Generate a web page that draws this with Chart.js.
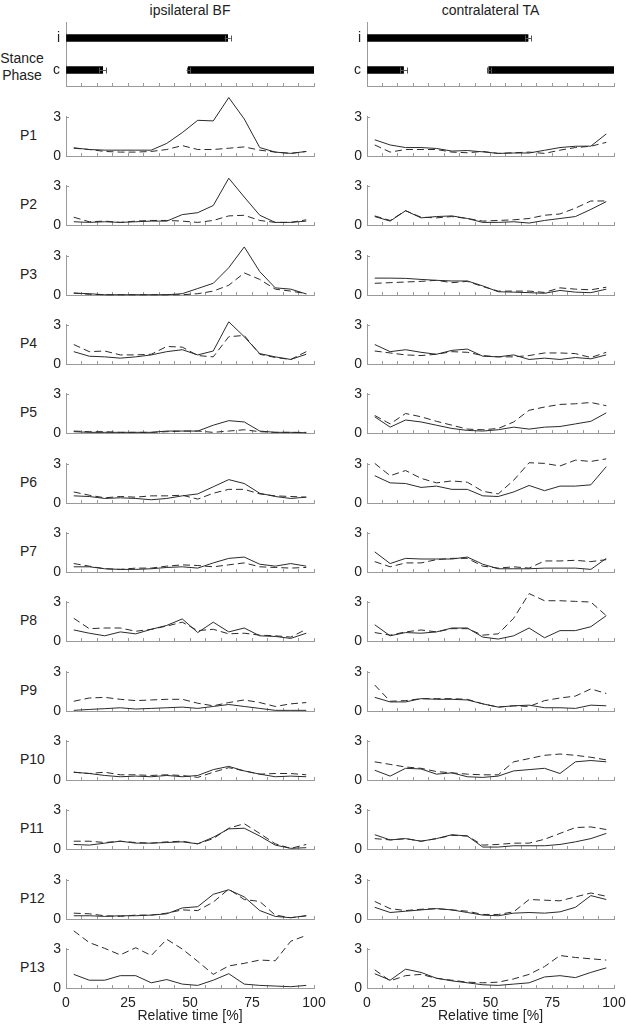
<!DOCTYPE html>
<html><head><meta charset="utf-8">
<script src="https://cdn.jsdelivr.net/npm/chart.js@4.4.1/dist/chart.umd.min.js"></script>
<style>
html,body{margin:0;padding:0;width:626px;height:1025px;overflow:hidden;background:#fff;}
#root{position:relative;width:626px;height:1025px;overflow:hidden;}
canvas{position:absolute;}
.lbl{position:absolute;font-family:"Liberation Sans",Arial,sans-serif;font-size:14px;color:#222;line-height:16px;white-space:nowrap;}
</style></head><body><div id="root"></div>
<script>
// ---------------- data ----------------
const participants = ['P1','P2','P3','P4','P5','P6','P7','P8','P9','P10','P11','P12','P13'];
const columnTitles = ['ipsilateral BF','contralateral TA'];
const stanceLabel = ['Stance','Phase'];
const xAxisTitle = 'Relative time [%]';
const timePoints = [3.125, 9.375, 15.625, 21.875, 28.125, 34.375, 40.625, 46.875, 53.125, 59.375, 65.625, 71.875, 78.125, 84.375, 90.625, 96.875];
const xTickValues = [0, 6.25, 12.5, 18.75, 25, 31.25, 37.5, 43.75, 50, 56.25, 62.5, 68.75, 75, 81.25, 87.5, 93.75, 100];
const xTickLabels = [0, 25, 50, 75, 100];
const yTickValues = [0, 3];

// stance phase (same gait for both columns)
const stanceCategories = ['i','c'];
const stanceFirstBars = [[0, 65.2], [0, 14.8]];
const stanceSecondBars = [null, [49.3, 100]];
const stanceErrorRows = ['i', 'c', 'c'];
const stanceErrorCenters = [65.2, 14.8, 49.3];
const stanceErrorSD = [1.2, 1.4, 0.7];

// ipsilateral BF, solid line
const bfSolid = [
  [0.63,0.5,0.45,0.45,0.45,0.45,0.97,1.8,2.75,2.7,4.5,2.85,0.65,0.3,0.2,0.35],
  [0.25,0.2,0.25,0.2,0.25,0.3,0.3,0.8,0.95,1.5,3.6,2.15,0.75,0.2,0.2,0.3],
  [0.15,0.1,0.02,0.02,0.02,0.02,0.02,0.1,0.5,0.9,2.1,3.7,1.8,0.55,0.45,0.08],
  [0.95,0.6,0.55,0.45,0.55,0.7,0.95,1.1,0.7,1.0,3.25,2.1,0.8,0.55,0.35,0.75],
  [0.1,0.05,0.05,0.05,0.05,0.05,0.15,0.15,0.15,0.6,0.95,0.85,0.15,0.05,0.05,0.02],
  [0.55,0.5,0.35,0.4,0.35,0.25,0.35,0.55,0.7,1.25,1.8,1.5,0.75,0.5,0.35,0.45],
  [0.4,0.4,0.25,0.2,0.2,0.25,0.35,0.4,0.3,0.7,1.05,1.15,0.6,0.45,0.65,0.45],
  [0.85,0.6,0.4,0.7,0.55,0.9,1.2,1.7,0.65,1.45,0.7,1.0,0.4,0.35,0.2,0.6],
  [0.05,0.12,0.18,0.25,0.15,0.2,0.25,0.3,0.2,0.35,0.5,0.35,0.2,0.05,0.05,0.05],
  [0.6,0.5,0.35,0.25,0.3,0.25,0.35,0.25,0.35,0.8,1.05,0.7,0.45,0.25,0.3,0.25],
  [0.35,0.3,0.45,0.6,0.45,0.45,0.5,0.55,0.4,0.9,1.55,1.6,1.0,0.3,0.05,0.1],
  [0.25,0.25,0.2,0.25,0.25,0.3,0.4,0.85,0.95,1.9,2.25,1.7,0.65,0.2,0.1,0.25],
  [1.05,0.6,0.6,0.95,0.95,0.4,0.65,0.3,0.2,0.6,1.1,0.3,0.2,0.15,0.1,0.2]
];
// ipsilateral BF, dashed line
const bfDashed = [
  [0.6,0.5,0.35,0.3,0.3,0.35,0.5,0.8,0.5,0.5,0.6,0.7,0.45,0.3,0.2,0.35],
  [0.6,0.25,0.3,0.2,0.3,0.35,0.35,0.3,0.2,0.35,0.7,0.75,0.35,0.2,0.2,0.4],
  [0.15,0.05,0.02,0.02,0.02,0.02,0.02,0.02,0.1,0.3,0.75,1.7,1.2,0.45,0.3,0.1],
  [1.5,0.95,1.0,0.7,0.7,0.75,1.35,1.3,0.65,0.55,2.1,2.2,0.75,0.5,0.35,0.95],
  [0.15,0.1,0.1,0.05,0.05,0.05,0.1,0.15,0.15,0.05,0.15,0.25,0.1,0.05,0.05,0.05],
  [0.85,0.6,0.4,0.5,0.45,0.55,0.55,0.6,0.3,0.75,1.05,1.05,0.7,0.55,0.5,0.45],
  [0.65,0.45,0.25,0.2,0.3,0.3,0.45,0.55,0.5,0.4,0.55,0.7,0.4,0.35,0.3,0.35],
  [1.75,0.95,1.0,1.0,0.75,0.9,1.15,1.45,0.8,0.9,0.55,0.6,0.45,0.4,0.3,0.9],
  [0.75,1.0,1.05,0.9,0.8,0.85,0.9,0.9,0.6,0.4,0.65,0.85,0.65,0.35,0.55,0.65],
  [0.6,0.5,0.6,0.4,0.4,0.35,0.4,0.35,0.2,0.6,0.95,0.7,0.45,0.5,0.5,0.4],
  [0.6,0.6,0.5,0.6,0.5,0.45,0.55,0.6,0.4,0.8,1.6,1.95,1.2,0.4,0.05,0.35],
  [0.45,0.4,0.25,0.2,0.3,0.3,0.45,0.7,0.65,1.3,2.3,1.5,1.35,0.3,0.1,0.25],
  [4.4,3.5,3.05,2.55,3.1,2.5,3.75,3.0,2.05,1.05,1.7,1.9,2.15,2.1,3.6,4.05]
];
// contralateral TA, solid line
const taSolid = [
  [1.25,0.85,0.65,0.65,0.58,0.38,0.42,0.32,0.2,0.23,0.23,0.44,0.65,0.75,0.76,1.7],
  [0.65,0.3,1.1,0.55,0.65,0.7,0.5,0.2,0.2,0.25,0.15,0.35,0.5,0.65,1.2,1.8],
  [1.3,1.3,1.28,1.2,1.13,1.08,1.08,0.7,0.25,0.22,0.18,0.13,0.35,0.22,0.18,0.45],
  [1.5,0.95,1.1,0.9,0.75,1.05,1.15,0.6,0.55,0.7,0.35,0.45,0.35,0.5,0.4,0.7],
  [1.25,0.45,1.0,0.85,0.6,0.35,0.2,0.15,0.25,0.45,0.3,0.45,0.5,0.7,0.9,1.55],
  [2.1,1.55,1.5,1.2,1.3,1.05,1.05,0.55,0.5,0.85,1.35,0.95,1.3,1.3,1.4,2.8],
  [1.55,0.65,1.05,1.0,1.0,1.0,1.15,0.6,0.25,0.25,0.25,0.3,0.3,0.3,0.2,1.05],
  [1.25,0.4,0.65,0.6,0.7,1.0,1.0,0.3,0.15,0.4,1.0,0.25,0.8,0.8,1.1,1.95],
  [1.05,0.7,0.7,0.95,0.9,0.9,0.85,0.55,0.3,0.4,0.45,0.25,0.25,0.2,0.45,0.4],
  [0.75,0.3,0.9,0.85,0.45,0.55,0.25,0.2,0.3,0.7,0.8,0.9,0.5,1.4,1.5,1.4],
  [1.1,0.7,0.8,0.6,0.8,1.1,1.0,0.15,0.15,0.25,0.25,0.25,0.35,0.55,0.8,1.2],
  [0.9,0.5,0.6,0.7,0.8,0.7,0.5,0.3,0.25,0.45,0.5,0.45,0.55,0.9,1.8,1.5],
  [1.1,0.6,1.45,1.2,0.75,0.55,0.4,0.25,0.2,0.3,0.4,0.85,0.95,0.8,1.2,1.55]
];
// contralateral TA, dashed line
const taDashed = [
  [0.85,0.3,0.5,0.5,0.5,0.3,0.25,0.35,0.2,0.25,0.3,0.2,0.45,0.65,0.75,1.05],
  [0.7,0.35,1.1,0.6,0.55,0.65,0.5,0.3,0.35,0.4,0.5,0.75,0.85,1.3,1.85,1.85],
  [0.9,0.95,1.0,1.05,1.13,0.95,1.05,0.65,0.3,0.3,0.3,0.2,0.55,0.45,0.4,0.6],
  [1.0,0.85,0.7,0.65,0.75,0.95,0.9,0.65,0.55,0.55,0.65,0.85,0.85,0.8,0.5,0.9],
  [1.35,0.7,1.5,1.25,0.9,0.6,0.3,0.25,0.35,0.85,1.75,2.0,2.2,2.25,2.35,2.1],
  [3.05,2.1,2.5,1.9,1.55,1.7,1.6,0.9,0.7,1.75,3.1,3.05,2.85,3.3,3.2,3.4],
  [0.8,0.4,0.7,0.7,0.95,1.05,1.05,0.45,0.3,0.4,0.3,0.85,0.85,0.9,0.8,0.95],
  [0.65,0.45,0.7,0.85,0.7,0.95,0.95,0.45,0.55,1.75,3.65,3.1,3.1,3.05,3.0,1.95],
  [2.0,0.75,0.8,0.95,0.95,0.95,0.9,0.55,0.3,0.4,0.35,0.8,1.0,1.15,1.7,1.35],
  [1.4,1.2,1.0,0.9,0.65,0.55,0.45,0.4,0.4,1.4,1.65,1.9,2.0,1.9,1.75,1.55],
  [0.8,0.7,0.8,0.6,0.8,1.05,1.0,0.3,0.35,0.45,0.45,0.75,1.2,1.65,1.7,1.5],
  [1.35,0.8,0.65,0.75,0.8,0.7,0.6,0.35,0.35,0.55,1.5,1.45,1.4,1.7,2.0,1.75],
  [1.4,0.55,0.95,1.05,0.75,0.6,0.45,0.4,0.45,0.7,1.05,1.65,2.5,2.35,2.25,2.15]
];

// ---------------- style / layout ----------------
const FONT = '"Liberation Sans", Arial, sans-serif';
const AXIS = '#9a9a9a';
const TEXT = '#222';
const LINE = '#2a2a2a';
const root = document.getElementById('root');
Chart.defaults.font.family = FONT;
Chart.defaults.font.size = 14;
Chart.defaults.color = TEXT;

const columns = [
  {canvasLeft: 0, canvasWidth: 350, yWidth: 66, padRight: 36, solid: bfSolid, dashed: bfDashed, titleCenter: 190},
  {canvasLeft: 330, canvasWidth: 326, yWidth: 37, padRight: 42, solid: taSolid, dashed: taDashed, titleCenter: 490.5}
];
const PANEL_FIRST_ZERO = 156, PANEL_STEP = 69.33, PLOT_H = 40, PAD_TOP = 28, Y_MAX = 3.08;

function addLabel(text, left, top, extra) {
  const d = document.createElement('div');
  d.className = 'lbl';
  d.textContent = text;
  d.style.left = left + 'px';
  d.style.top = top + 'px';
  if (extra) Object.assign(d.style, extra);
  root.appendChild(d);
  return d;
}
function addCanvas(left, top, w, h) {
  const c = document.createElement('canvas');
  c.width = w; c.height = h;
  c.style.left = left + 'px'; c.style.top = top + 'px';
  c.style.width = w + 'px'; c.style.height = h + 'px';
  root.appendChild(c);
  return c;
}

function xScaleOpts(showLabels, xHeight) {
  return {
    type: 'linear', min: 0, max: 100,
    afterBuildTicks: s => { s.ticks = xTickValues.map(v => ({value: v})); },
    ticks: {
      autoSkip: false, maxRotation: 0, padding: 10, color: TEXT, font: {size: 14},
      callback: v => (showLabels && xTickLabels.includes(v)) ? String(v) : ''
    },
    grid: {drawOnChartArea: false, drawTicks: true, tickLength: -3, color: AXIS, lineWidth: 1},
    border: {display: true, color: AXIS, width: 1},
    title: {display: showLabels, text: xAxisTitle, color: TEXT, font: {size: 14}, padding: {top: 0, bottom: 0}},
    afterFit: s => { s.height = xHeight; }
  };
}

// ---------------- titles ----------------
columns.forEach((col, ci) => {
  addLabel(columnTitles[ci], col.titleCenter - 100, 2, {width: '200px', textAlign: 'center'});
});
addLabel(stanceLabel[0] + '\n' + stanceLabel[1], 0, 50, {width: '44px', textAlign: 'center', whiteSpace: 'pre', lineHeight: '17px'});

// ---------------- stance phase panels ----------------
const errorPlugin = {
  id: 'stanceErrors',
  afterDatasetsDraw(chart) {
    const {ctx, scales: {x, y}} = chart;
    ctx.save();
    ctx.strokeStyle = '#555';
    ctx.lineWidth = 1;
    stanceErrorRows.forEach((row, i) => {
      const py = Math.round(y.getPixelForValue(stanceCategories.indexOf(row))) + 0.5;
      const x1 = x.getPixelForValue(stanceErrorCenters[i] - stanceErrorSD[i]);
      const x2 = x.getPixelForValue(stanceErrorCenters[i] + stanceErrorSD[i]);
      ctx.beginPath();
      ctx.moveTo(x1, py); ctx.lineTo(x2, py);
      ctx.moveTo(Math.round(x1) + 0.5, py - 3); ctx.lineTo(Math.round(x1) + 0.5, py + 3);
      ctx.moveTo(Math.round(x2) + 0.5, py - 3); ctx.lineTo(Math.round(x2) + 0.5, py + 3);
      ctx.stroke();
    });
    ctx.restore();
  }
};
columns.forEach(col => {
  const STANCE_TOP = 22, STANCE_BOTTOM = 86, XH = 20;
  const cv = addCanvas(col.canvasLeft, 0, col.canvasWidth, STANCE_BOTTOM + XH);
  new Chart(cv, {
    type: 'bar',
    data: {
      labels: stanceCategories,
      datasets: [
        {data: stanceFirstBars, backgroundColor: '#000', barThickness: 7, grouped: false, borderWidth: 0},
        {data: stanceSecondBars, backgroundColor: '#000', barThickness: 7, grouped: false, borderWidth: 0}
      ]
    },
    options: {
      indexAxis: 'y', responsive: false, animation: false, events: [], devicePixelRatio: 1,
      layout: {padding: {top: STANCE_TOP, left: 0, right: col.padRight, bottom: 0}},
      plugins: {legend: {display: false}, tooltip: {enabled: false}},
      scales: {
        x: xScaleOpts(false, XH),
        y: {
          type: 'category', offset: true,
          ticks: {padding: 6, color: TEXT, font: {size: 14}},
          grid: {drawOnChartArea: false, drawTicks: false, color: AXIS},
          border: {display: true, color: AXIS, width: 1},
          afterFit: s => { s.width = col.yWidth; }
        }
      }
    },
    plugins: [errorPlugin]
  });
});

// ---------------- participant panels ----------------
participants.forEach((p, k) => {
  const zero = Math.round(PANEL_FIRST_ZERO + PANEL_STEP * k);
  const isBottom = k === participants.length - 1;
  const xH = isBottom ? (1025 - zero) : 20;
  const top = zero - PLOT_H - PAD_TOP;
  addLabel(p, 20, zero - 21 - 8);
  columns.forEach(col => {
    const cv = addCanvas(col.canvasLeft, top, col.canvasWidth, PAD_TOP + PLOT_H + xH);
    const mk = arr => timePoints.map((t, i) => ({x: t, y: arr[i]}));
    new Chart(cv, {
      type: 'line',
      data: {
        datasets: [
          {data: mk(col.solid[k]), borderColor: LINE, borderWidth: 1, pointRadius: 0, tension: 0, fill: false, clip: false},
          {data: mk(col.dashed[k]), borderColor: LINE, borderWidth: 1, borderDash: [7, 4], pointRadius: 0, tension: 0, fill: false, clip: false}
        ]
      },
      options: {
        responsive: false, animation: false, events: [], devicePixelRatio: 1,
        layout: {padding: {top: PAD_TOP, left: 0, right: col.padRight, bottom: 0}},
        plugins: {legend: {display: false}, tooltip: {enabled: false}},
        scales: {
          x: xScaleOpts(isBottom, xH),
          y: {
            type: 'linear', min: 0, max: Y_MAX,
            afterBuildTicks: s => { s.ticks = yTickValues.map(v => ({value: v})); },
            ticks: {padding: 8, color: TEXT, font: {size: 14}},
            grid: {drawOnChartArea: false, drawTicks: true, tickLength: -3, color: AXIS},
            border: {display: true, color: AXIS, width: 1},
            afterFit: s => { s.width = col.yWidth; }
          }
        }
      }
    });
  });
});
</script>
</body></html>
